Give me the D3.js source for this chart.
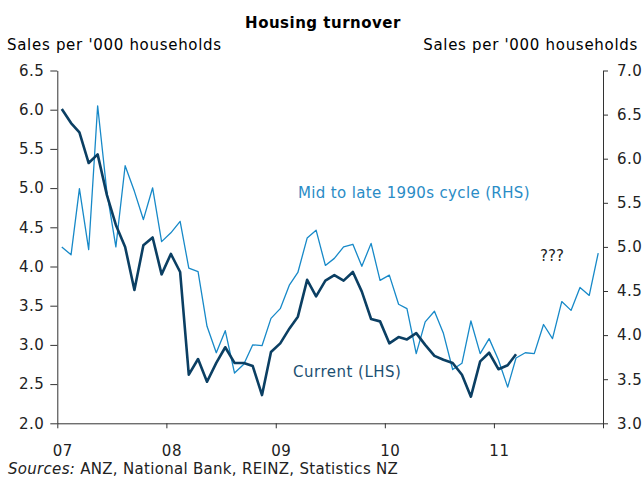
<html>
<head>
<script src="https://d3js.org/d3.v7.min.js"></script>
<style>
body { margin: 0; background: white; }
text { font-family: "DejaVu Sans", Verdana, sans-serif; }
</style>
</head>
<body>
<svg width="643" height="477"></svg>
<script>
// monthly data, Jan 2007 onwards
var current = [6.01,5.83,5.71,5.32,5.43,4.91,4.53,4.25,3.70,4.27,4.37,3.90,4.16,3.93,2.62,2.82,2.53,2.77,2.97,2.77,
  2.77,2.73,2.36,2.91,3.02,3.21,3.36,3.83,3.62,3.82,3.89,3.82,3.93,3.68,3.33,3.30,3.02,3.10,3.07,3.15,
  3.00,2.86,2.81,2.77,2.62,2.34,2.79,2.90,2.69,2.74,2.88];
var cycle90s = [5.00,4.91,5.66,4.97,6.60,5.62,5.00,5.92,5.63,5.31,5.67,5.06,5.16,5.29,4.76,4.72,4.10,3.80,4.05,3.57,
  3.67,3.89,3.88,4.19,4.30,4.57,4.71,5.10,5.19,4.79,4.87,5.00,5.03,4.78,5.04,4.62,4.68,4.35,4.30,3.79,
  4.15,4.27,4.02,3.61,3.68,4.16,3.79,3.96,3.72,3.41,3.74,3.80,3.79,4.12,3.96,4.38,4.28,4.54,4.45,4.93];
var leftTicks = [2.0,2.5,3.0,3.5,4.0,4.5,5.0,5.5,6.0,6.5];
var rightTicks = [3.0,3.5,4.0,4.5,5.0,5.5,6.0,6.5,7.0];
var yearTicks = [2007,2008,2009,2010,2011,2012];
var yearLabels = ['07','08','09','10','11',''];

var plotL = 57.3, plotR = 603, plotT = 70.5, plotB = 423.3;
var svg = d3.select('svg');

var xs = d3.scaleTime().domain([new Date(2007,0,1), new Date(2012,0,1)]).range([plotL, plotR]);
var yl = d3.scaleLinear().domain([2,6.5]).range([plotB, plotT]);
var yr = d3.scaleLinear().domain([3,7]).range([plotB, plotT]);
function month(i) { return new Date(2007, i, 16); }

// title and axis titles
svg.append('text').attr('x', 323).attr('y', 28).attr('text-anchor','middle')
  .style('font-weight','bold').style('font-size','15px').style('letter-spacing','0.5px').text('Housing turnover');
svg.append('text').attr('x', 7).attr('y', 50).style('font-size','15px').style('letter-spacing','0.7px')
  .text("Sales per '000 households");
svg.append('text').attr('x', 638).attr('y', 50).attr('text-anchor','end').style('font-size','15px').style('letter-spacing','0.7px')
  .text("Sales per '000 households");

// axes
var yAxisL = d3.axisLeft(yl).tickValues(leftTicks).tickFormat(d3.format('.1f')).tickSize(7).tickSizeOuter(0).tickPadding(6);
var gl = svg.append('g').attr('transform','translate('+plotL+',0)').call(yAxisL);
var yAxisR = d3.axisRight(yr).tickValues(rightTicks).tickFormat(d3.format('.1f')).tickSize(5).tickSizeOuter(0).tickPadding(9);
var gr = svg.append('g').attr('transform','translate('+plotR+',0)').call(yAxisR);
var xAxis = d3.axisBottom(xs).tickValues(yearTicks.map(function(y){ return new Date(y,0,1); }))
  .tickFormat(function(d,i){ return yearLabels[i]; }).tickSize(5).tickSizeOuter(0).tickPadding(17);
var gx = svg.append('g').attr('transform','translate(0,'+plotB+')').call(xAxis);
gx.selectAll('text').attr('dx', 5);

[gl, gr, gx].forEach(function(g) {
  g.selectAll('text').style('font-size','15px').style('letter-spacing','0.5px')
    .style('font-family','"DejaVu Sans", Verdana, sans-serif').attr('fill','#222');
  g.selectAll('line').attr('stroke','#333');
  g.select('.domain').attr('stroke','#333');
});

// lines
var lineL = d3.line().x(function(d,i){ return xs(month(i)); }).y(function(d){ return yl(d); });
var lineR = d3.line().x(function(d,i){ return xs(month(i)); }).y(function(d){ return yr(d); });

svg.append('path').datum(cycle90s).attr('d', lineR)
  .attr('fill','none').attr('stroke','#1789c8').attr('stroke-width',1.3).attr('stroke-linejoin','round');
svg.append('path').datum(current).attr('d', lineL)
  .attr('fill','none').attr('stroke','#0b3f63').attr('stroke-width',2.6).attr('stroke-linejoin','round');

// labels
svg.append('text').attr('x', 298).attr('y', 198).style('font-size','15px').style('letter-spacing','0.35px')
  .attr('fill','#2a8cc6').text('Mid to late 1990s cycle (RHS)');
svg.append('text').attr('x', 293).attr('y', 377).style('font-size','15px').style('letter-spacing','0.5px')
  .attr('fill','#1c4f72').text('Current (LHS)');
svg.append('text').attr('x', 540).attr('y', 261).style('font-size','15px').attr('fill','#222').text('???');

var src = svg.append('text').attr('x', 8).attr('y', 474).style('font-size','15px').style('letter-spacing','0.3px').attr('fill','#222');
src.append('tspan').style('font-style','italic').text('Sources:');
src.append('tspan').text('  ANZ, National Bank, REINZ, Statistics NZ');
</script>
</body>
</html>
